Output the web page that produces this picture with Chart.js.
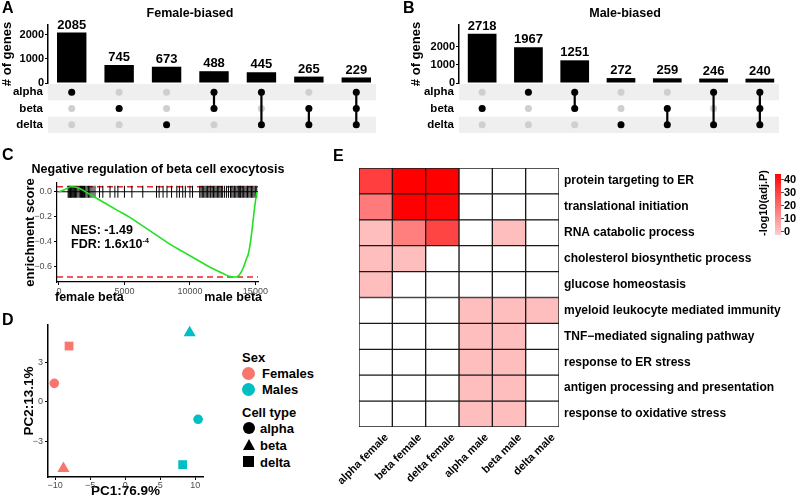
<!DOCTYPE html>
<html>
<head>
<meta charset="utf-8">
<script src="https://cdn.jsdelivr.net/npm/chart.js@4.4.1/dist/chart.umd.min.js"></script>
<style>
  body { margin:0; background:#fff; width:800px; height:499px; position:relative; overflow:hidden;
         font-family:'Liberation Sans', Arial, sans-serif; font-weight:bold; color:#000; }
  canvas { position:absolute; }
  .t { position:absolute; white-space:nowrap; line-height:1; }
  .c { transform:translateX(-50%); }
  .letter { font-size:16px; }
  .mk { position:absolute; }
</style>
</head>
<body>
<canvas id="upA" width="385" height="86" style="left:0;top:0"></canvas>
<canvas id="matA" width="385" height="49" style="left:0;top:84px"></canvas>
<canvas id="upB" width="385" height="86" style="left:400px;top:0"></canvas>
<canvas id="matB" width="385" height="49" style="left:400px;top:84px"></canvas>
<canvas id="gsea" width="316" height="150" style="left:0;top:155px"></canvas>
<canvas id="pca" width="215" height="181" style="left:0;top:318px"></canvas>
<canvas id="heat" width="480" height="339" style="left:320px;top:160px"></canvas>

<div class="t letter" style="left:2px;top:0px">A</div>
<div class="t letter" style="left:403px;top:0px">B</div>
<div class="t letter" style="left:2px;top:147px">C</div>
<div class="t letter" style="left:2px;top:312px">D</div>
<div class="t letter" style="left:333px;top:148px">E</div>

<div class="t c" style="left:190px;top:7px;font-size:12.5px">Female-biased</div>
<div class="t c" style="left:625px;top:7px;font-size:12.5px">Male-biased</div>
<div class="t c" style="left:158px;top:163px;font-size:12.5px">Negative regulation of beta cell exocytosis</div>

<!-- panel C stats -->
<div class="t" style="left:71px;top:224px;font-size:12.5px">NES: -1.49</div>
<div class="t" style="left:71px;top:237px;font-size:12.5px">FDR: 1.6x10<sup style="font-size:7px">-4</sup></div>

<!-- panel D legend -->
<div class="t" style="left:242px;top:351px;font-size:13px">Sex</div>
<div class="mk" style="left:242px;top:367px;width:13px;height:13px;border-radius:50%;background:#F8766D"></div>
<div class="t" style="left:262px;top:367px;font-size:13px">Females</div>
<div class="mk" style="left:242px;top:383px;width:13px;height:13px;border-radius:50%;background:#00BFC4"></div>
<div class="t" style="left:262px;top:383px;font-size:13px">Males</div>
<div class="t" style="left:242px;top:406px;font-size:13px">Cell type</div>
<div class="mk" style="left:243px;top:422px;width:12px;height:12px;border-radius:50%;background:#000"></div>
<div class="t" style="left:260px;top:422px;font-size:13px">alpha</div>
<div class="mk" style="left:243px;top:439px;width:0;height:0;border-left:6px solid transparent;border-right:6px solid transparent;border-bottom:11px solid #000"></div>
<div class="t" style="left:260px;top:439px;font-size:13px">beta</div>
<div class="mk" style="left:243px;top:456px;width:11px;height:11px;background:#000"></div>
<div class="t" style="left:260px;top:456px;font-size:13px">delta</div>

<!-- panel E colour key -->
<div id="cbar" class="mk" style="left:775px;top:174px;width:6px;height:61px"></div>
<div id="cticks"></div>
<div class="t" style="left:763px;top:203px;font-size:11px;transform:translate(-50%,-50%) rotate(-90deg)">-log10(adj.P)</div>

<script>
// ---- data ----
const setNames = ['alpha', 'beta', 'delta'];

const femaleCounts = [2085, 745, 673, 488, 445, 265, 229];
const femaleSets = [['alpha'], ['beta'], ['delta'], ['alpha','beta'], ['alpha','delta'], ['beta','delta'], ['alpha','beta','delta']];
const maleCounts = [2718, 1967, 1251, 272, 259, 246, 240];
const maleSets = [['beta'], ['alpha'], ['alpha','beta'], ['delta'], ['beta','delta'], ['alpha','delta'], ['alpha','beta','delta']];
const geneTicks = [0, 1000, 2000];

// GSEA running enrichment score (rank, score)
const esRank  = [0, 500, 900, 1500, 2500, 3500, 4500, 5500, 6500, 7500, 8500, 9500, 10500, 11500, 12500, 13000, 13500, 13800, 14100, 14300, 14450, 14600, 14750, 14900, 15100];
const esScore = [0, 0.02, 0.04, 0.03, -0.03, -0.09, -0.15, -0.21, -0.28, -0.35, -0.42, -0.48, -0.54, -0.60, -0.65, -0.675, -0.68, -0.66, -0.60, -0.54, -0.50, -0.42, -0.30, -0.16, 0];
const hitRanks = [700, 760, 820, 880, 950, 1020, 1100, 1180, 1260, 1350, 1450, 1550, 1650, 1720, 1800, 1880, 1950, 2050, 2150,
  2250, 2350, 2450, 2600, 2750, 3100, 3350, 3900, 4270, 4500, 5000, 5570, 6400, 7450, 7650, 7950, 8250, 8600, 9000, 9200,
  9450, 9650, 10000, 10200, 10750, 10850, 10950, 11050, 11150, 11250, 11350, 11450, 11550, 11600, 11700, 11800, 11900,
  12000, 12100, 12200, 12300, 12400, 12500, 12650, 12800, 12950, 13100, 13200, 13300, 13400, 13500, 13600, 13700, 13800,
  13850, 13900, 14000, 14100, 14200, 14300, 14400, 14500, 14600, 14700, 14800, 14900, 15000, 15100];
const gseaYTicks = [-0.6, -0.4, -0.2, 0];
const gseaXTicks = [0, 5000, 10000, 15000];
const gseaEnds = ['female beta', 'male beta'];

// PCA
const femalePC1 = [-10.1, -8.8, -8.0];   // alpha, beta, delta
const femalePC2 = [1.4, -5.0, 4.2];
const malePC1 = [10.4, 9.2, 8.2];
const malePC2 = [-1.3, 5.2, -4.7];
const pcXTicks = [-10, -5, 0, 5, 10];
const pcYTicks = [-3, 0, 3];

// GO heatmap, -log10(adj.P); null = not enriched
const goTerms = ['protein targeting to ER', 'translational initiation', 'RNA catabolic process',
  'cholesterol biosynthetic process', 'glucose homeostasis', 'myeloid leukocyte mediated immunity',
  'TNF\u2212mediated signaling pathway', 'response to ER stress', 'antigen processing and presentation',
  'response to oxidative stress'];
const groups = ['alpha female', 'beta female', 'delta female', 'alpha male', 'beta male', 'delta male'];
const alphaFemale = [31, 18, 3, 3, 3, null, null, null, null, null];
const betaFemale  = [45, 45, 17, 3, null, null, null, null, null, null];
const deltaFemale = [45, 44, 30, null, null, null, null, null, null, null];
const alphaMale   = [null, null, null, null, null, 3, 3, 3, 3, 3];
const betaMale    = [null, null, 3, null, null, 3, 3, 3, 3, 3];
const deltaMale   = [null, null, null, null, null, 3, null, null, null, null];
const keyTicks = [0, 10, 20, 30, 40];

// ---- styling ----
const FONT = "'Liberation Sans', Arial, sans-serif";
Chart.defaults.font.family = FONT;
Chart.defaults.font.weight = 'bold';
Chart.defaults.color = '#000';
Chart.defaults.animation = false;
Chart.defaults.events = [];
Chart.defaults.plugins.legend.display = false;
Chart.defaults.plugins.tooltip.enabled = false;
Chart.defaults.layout.autoPadding = false;

const minus = v => v < 0 ? '\u2212' + Math.abs(v) : String(v);
const greyTicks = { color:'#4d4d4d', font:{ size:9, weight:'normal' } };
// fixed axis sizes, and no extra room for half-labels at the ends
const fixY = w => s => { s.width = w; s.paddingTop = 0; s.paddingBottom = 0; };
const fixX = h => s => { s.height = h; s.paddingLeft = 0; s.paddingRight = 0; };
const colorMax = 45;
function fillFor(v) {
  if (v == null) return '#ffffff';
  const t = Math.min(v, colorMax) / colorMax;
  const gb = Math.round(204 * (1 - t));
  return `rgb(255,${gb},${gb})`;
}

// ---- panel A/B: UpSet ----
const barLabels = {
  id: 'barLabels',
  afterDatasetsDraw(chart) {
    const { ctx } = chart;
    const vals = chart.data.datasets[0].data;
    ctx.save();
    ctx.font = 'bold 13px ' + FONT;
    ctx.fillStyle = '#000'; ctx.textAlign = 'center'; ctx.textBaseline = 'bottom';
    chart.getDatasetMeta(0).data.forEach((bar, i) => ctx.fillText(vals[i], bar.x, bar.y - 1));
    ctx.restore();
  }
};

const rowBands = {
  id: 'rowBands',
  beforeDatasetsDraw(chart) {
    const { ctx, chartArea: a, scales: { y } } = chart;
    const h = (a.bottom - a.top) / setNames.length;
    ctx.save();
    ctx.fillStyle = '#efefef';
    setNames.forEach((s, i) => {
      if (i % 2 === 0) ctx.fillRect(a.left, y.getPixelForValue(i) - h / 2, a.right - a.left - 4, h);
    });
    ctx.restore();
  }
};

function upsetBars(id, counts, yMax, axisW, padRight, titlePad) {
  new Chart(document.getElementById(id), {
    type: 'bar',
    data: { labels: counts.map((c, i) => 'set' + i),
      datasets: [{ data: counts, backgroundColor: '#000', categoryPercentage: 1, barPercentage: 0.62 }] },
    options: {
      responsive: false,
      layout: { padding: { top: 25, right: padRight, bottom: 3 } },
      scales: {
        x: { display: false },
        y: {
          min: 0, max: yMax,
          afterFit: fixY(axisW),
          afterBuildTicks: s => { s.ticks = geneTicks.map(v => ({ value: v })); },
          grid: { drawOnChartArea: false, tickLength: 3, color: '#000' },
          border: { color: '#000', width: 1.5 },
          ticks: { font: { size: 11, weight: 'bold' }, padding: 1, callback: v => String(v) },
          title: { display: true, text: '# of genes', font: { size: 13, weight: 'bold' }, padding: { top: titlePad, bottom: 0 } }
        }
      }
    },
    plugins: [barLabels]
  });
}

function upsetMatrix(id, counts, sets, axisW, padRight) {
  const labels = counts.map((c, i) => 'set' + i);
  const members = sets.map((m, i) => ({
    data: setNames.filter(s => m.includes(s)).map(s => ({ x: labels[i], y: s })),
    showLine: true, borderColor: '#000', borderWidth: 2.2,
    pointRadius: 3.5, backgroundColor: '#000', pointBorderWidth: 0
  }));
  const empty = { data: [], pointRadius: 3.5, backgroundColor: '#cfcfcf', pointBorderWidth: 0 };
  labels.forEach(l => setNames.forEach(s => empty.data.push({ x: l, y: s })));
  new Chart(document.getElementById(id), {
    type: 'scatter',
    data: { datasets: [...members, empty] },
    options: {
      responsive: false,
      layout: { padding: { right: padRight } },
      scales: {
        x: { type: 'category', labels: labels, offset: true, display: false },
        y: { type: 'category', labels: setNames, offset: true,
             afterFit: fixY(axisW),
             grid: { display: false, drawTicks: false }, border: { display: false },
             ticks: { font: { size: 11.5, weight: 'bold' }, padding: 5, autoSkip: false } }
      }
    },
    plugins: [rowBands]
  });
}

upsetBars('upA', femaleCounts, 2400, 48, 5, 0);
upsetMatrix('matA', femaleCounts, femaleSets, 48, 5);
upsetBars('upB', maleCounts, 3200, 59, 2, 9);
upsetMatrix('matB', maleCounts, maleSets, 59, 2);

// ---- panel C: GSEA ----
const esMax = Math.max(...esScore), esMin = Math.min(...esScore);
const gX = [-150, 15200];
const sideTitles = {
  id: 'sideTitles',
  afterDraw(chart) {
    const { ctx, chartArea: a } = chart;
    ctx.save();
    ctx.font = 'bold 12.5px ' + FONT; ctx.fillStyle = '#000'; ctx.textBaseline = 'middle';
    ctx.textAlign = 'left'; ctx.fillText(gseaEnds[0], a.left - 2, a.bottom + 16);
    ctx.textAlign = 'right'; ctx.fillText(gseaEnds[1], a.right + 4, a.bottom + 16);
    ctx.restore();
  }
};
new Chart(document.getElementById('gsea'), {
  type: 'line',
  data: { datasets: [
    { data: esRank.map((x, i) => ({ x, y: esScore[i] })), borderColor: '#22e022', borderWidth: 1.6,
      pointRadius: 0, cubicInterpolationMode: 'monotone' },
    { data: hitRanks.map(x => ({ x, y: 0 })), showLine: false, pointStyle: 'line', rotation: 90,
      pointRadius: 6, borderColor: '#000', borderWidth: 1 },
    { data: gX.map(x => ({ x, y: 0 })), borderColor: '#000', borderWidth: 1.2, pointRadius: 0 },
    { data: gX.map(x => ({ x, y: esMax })), borderColor: '#e8262a', borderWidth: 1.6, borderDash: [6, 4], pointRadius: 0 },
    { data: gX.map(x => ({ x, y: esMin })), borderColor: '#e8262a', borderWidth: 1.6, borderDash: [6, 4], pointRadius: 0 }
  ] },
  options: {
    responsive: false,
    layout: { padding: { top: 28, right: 58 } },
    scales: {
      x: { type: 'linear', min: gX[0], max: gX[1],
           afterBuildTicks: s => { s.ticks = gseaXTicks.map(v => ({ value: v })); },
           afterFit: fixX(23),
           grid: { drawOnChartArea: false, tickLength: 3, color: '#000' },
           border: { color: '#000', width: 1.2 },
           ticks: { ...greyTicks, padding: 1, maxRotation: 0, callback: v => String(v) } },
      y: { min: -0.72, max: 0.07,
           afterBuildTicks: s => { s.ticks = gseaYTicks.map(v => ({ value: v })); },
           afterFit: fixY(57),
           grid: { drawOnChartArea: false, tickLength: 3, color: '#000' },
           border: { color: '#000', width: 1.2 },
           ticks: { ...greyTicks, padding: 2, callback: v => v === 0 ? '0.0' : '\u2212' + Math.abs(v).toFixed(1) },
           title: { display: true, text: 'enrichment score', font: { size: 13, weight: 'bold' }, padding: { top: 23, bottom: 0 } } }
    }
  },
  plugins: [sideTitles]
});

// ---- panel D: PCA ----
const sexColors = ['#F8766D', '#00BFC4'];
const cellShapes = ['circle', 'triangle', 'rect'];
const cellRadii = [4.8, 7, 6.2];
new Chart(document.getElementById('pca'), {
  type: 'scatter',
  data: { datasets: [
    { data: femalePC1.map((x, i) => ({ x, y: femalePC2[i] })), backgroundColor: sexColors[0],
      pointStyle: cellShapes, pointRadius: cellRadii, pointBorderWidth: 0 },
    { data: malePC1.map((x, i) => ({ x, y: malePC2[i] })), backgroundColor: sexColors[1],
      pointStyle: cellShapes, pointRadius: cellRadii, pointBorderWidth: 0 }
  ] },
  options: {
    responsive: false,
    layout: { padding: { top: 7, right: 12 } },
    scales: {
      x: { min: -11, max: 11.1,
           afterBuildTicks: s => { s.ticks = pcXTicks.map(v => ({ value: v })); },
           afterFit: fixX(22),
           grid: { drawOnChartArea: false, tickLength: 3, color: '#000' },
           border: { color: '#000', width: 1.5 },
           ticks: { ...greyTicks, padding: 0, maxRotation: 0, callback: v => minus(v) },
           title: { display: true, text: 'PC1:76.9%', font: { size: 13.5, weight: 'bold' }, padding: 0 } },
      y: { min: -5.63, max: 5.78,
           afterBuildTicks: s => { s.ticks = pcYTicks.map(v => ({ value: v })); },
           afterFit: fixY(48),
           grid: { drawOnChartArea: false, tickLength: 3, color: '#000' },
           border: { color: '#000', width: 1.5 },
           ticks: { ...greyTicks, padding: 2, callback: v => minus(v) },
           title: { display: true, text: 'PC2:13.1%', font: { size: 13.5, weight: 'bold' }, padding: { top: 21, bottom: 0 } } }
    }
  }
});

// ---- panel E: GO heatmap ----
const columns = [alphaFemale, betaFemale, deltaFemale, alphaMale, betaMale, deltaMale];
new Chart(document.getElementById('heat'), {
  type: 'bar',
  data: { labels: goTerms, datasets: columns.map((col, j) => ({
    label: groups[j], data: goTerms.map(() => 1), backgroundColor: col.map(fillFor),
    borderColor: '#1a1a1a', borderWidth: 1, borderSkipped: false,
    categoryPercentage: 1, barPercentage: 1
  })) },
  options: {
    responsive: false,
    indexAxis: 'y',
    layout: { padding: { left: 39, top: 8 } },
    scales: {
      x: { type: 'linear', stacked: true, min: 0, max: groups.length,
           afterBuildTicks: s => { s.ticks = groups.map((g, i) => ({ value: i + 0.5 })); },
           afterFit: fixX(72),
           grid: { display: false, drawTicks: false }, border: { display: false },
           ticks: { callback: (v, i) => groups[i], minRotation: 45, maxRotation: 45, autoSkip: false,
                    labelOffset: 11, padding: 4, font: { size: 11, weight: 'bold' } } },
      y: { type: 'category', position: 'right', stacked: true,
           afterFit: fixY(241),
           grid: { display: false, drawTicks: false }, border: { display: false },
           ticks: { font: { size: 12, weight: 'bold' }, padding: 5 } }
    }
  }
});

// colour key
document.getElementById('cbar').style.background =
  `linear-gradient(to top, ${fillFor(0)}, ${fillFor(22)}, ${fillFor(44)})`;
const ct = document.getElementById('cticks');
keyTicks.forEach(v => {
  const y = 231 - v * 1.3;
  ct.insertAdjacentHTML('beforeend',
    `<div class="mk" style="left:781px;top:${y}px;width:3px;height:1px;background:#555"></div>` +
    `<div class="t" style="left:784px;top:${y - 5.5}px;font-size:11px">${v}</div>`);
});
</script>
</body>
</html>
